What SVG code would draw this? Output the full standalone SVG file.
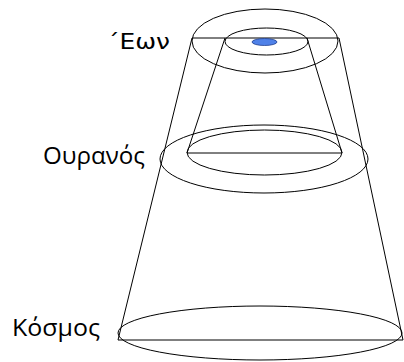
<svg xmlns="http://www.w3.org/2000/svg" width="404" height="362" viewBox="0 0 404 362">
<style>
.s{fill:none;stroke:#000;stroke-width:1}
.t{font-family:"Open Sans","Noto Sans","Liberation Sans",sans-serif;font-size:24px;fill:#000}
</style>
<rect width="404" height="362" fill="#fff"/>
<g id="connectors">
<line class="s" x1="192" y1="38" x2="118" y2="340"/>
<line class="s" x1="339" y1="38" x2="403" y2="340"/>
<line class="s" x1="225" y1="38" x2="187" y2="153"/>
<line class="s" x1="307" y1="38" x2="342" y2="153"/>
<line class="s" x1="192" y1="38" x2="339" y2="38"/>
<line class="s" x1="187" y1="153" x2="342" y2="153"/>
<line class="s" x1="118" y1="340" x2="403" y2="340"/>
</g>
<g id="eon">
<ellipse class="s" cx="265" cy="41" rx="73" ry="32"/>
<ellipse class="s" cx="266.5" cy="41.5" rx="41.5" ry="13.5"/>
<ellipse cx="264.5" cy="42" rx="12.5" ry="3.5" fill="#4f81e8" stroke="#1f3f8f" stroke-width="0.8"/>
<text x="107" y="49" style="font-family:'DejaVu Sans','Liberation Sans',sans-serif;font-size:21px" textLength="63" lengthAdjust="spacingAndGlyphs">΄Εων</text>
</g>
<g id="ouranos">
<ellipse class="s" cx="264" cy="159" rx="104" ry="34"/>
<ellipse class="s" cx="264.5" cy="152.5" rx="77.5" ry="22.5"/>
<text class="t" x="43" y="164" textLength="102" lengthAdjust="spacingAndGlyphs">Ουρανός</text>
</g>
<g id="kosmos">
<ellipse class="s" cx="260" cy="333" rx="142" ry="27"/>
<text class="t" x="12" y="336" textLength="88" lengthAdjust="spacingAndGlyphs">Κόσμος</text>
</g>
</svg>
